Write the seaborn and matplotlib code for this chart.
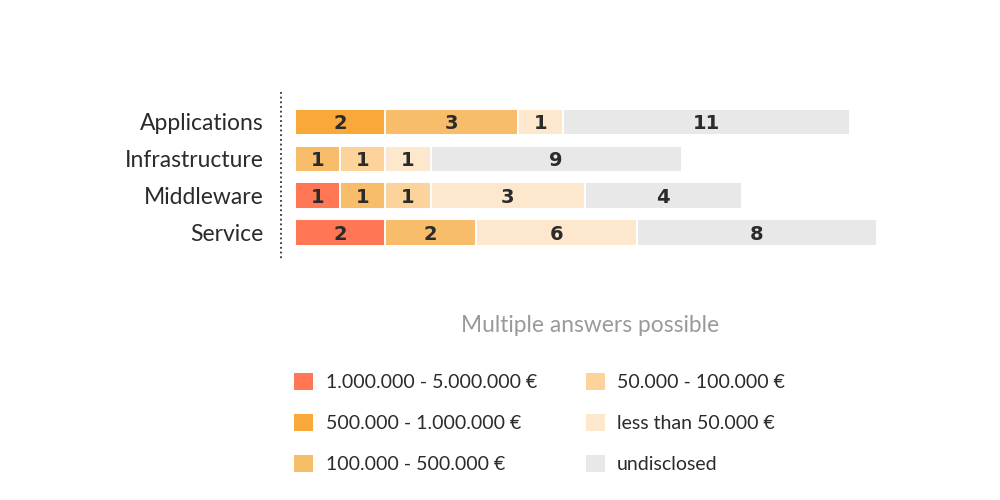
import numpy as np
import pandas as pd
import matplotlib
matplotlib.use("Agg")
import matplotlib.pyplot as plt
import seaborn as sns
from matplotlib.patches import Patch
from matplotlib.lines import Line2D

# ---------------- data ----------------
areas = ["Applications", "Infrastructure", "Middleware", "Service"]
brackets = ["1.000.000 - 5.000.000 €", "500.000 - 1.000.000 €", "100.000 - 500.000 €",
            "50.000 - 100.000 €", "less than 50.000 €", "undisclosed"]
colors = ["#FF7755", "#F9A83A", "#F8BD6B", "#FCD49B", "#FDE8CE", "#E8E8E8"]

# per area: bracket index, answer count, drawn segment length
applications_brackets = [1, 2, 4, 5]
applications_counts = [2, 3, 1, 11]
applications_lengths = [2.0, 2.94, 0.98, 6.33]

infrastructure_brackets = [2, 3, 4, 5]
infrastructure_counts = [1, 1, 1, 9]
infrastructure_lengths = [1.0, 1.0, 1.0, 5.54]

middleware_brackets = [0, 2, 3, 4, 5]
middleware_counts = [1, 1, 1, 3, 4]
middleware_lengths = [1.0, 1.0, 1.0, 3.4, 3.47]

service_brackets = [0, 2, 4, 5]
service_counts = [2, 2, 6, 8]
service_lengths = [2.0, 2.0, 3.55, 5.3]

note = "Multiple answers possible"

# ---------------- build table ----------------
rows = []
for area, bi, cn, ln in [
    ("Applications", applications_brackets, applications_counts, applications_lengths),
    ("Infrastructure", infrastructure_brackets, infrastructure_counts, infrastructure_lengths),
    ("Middleware", middleware_brackets, middleware_counts, middleware_lengths),
    ("Service", service_brackets, service_counts, service_lengths),
]:
    ends = np.cumsum(ln)
    starts = ends - np.array(ln)
    for k, (b, c, s, e) in enumerate(zip(bi, cn, starts, ends)):
        rows.append(dict(area=area, bracket=brackets[b], count=c, start=s, end=e, layer=k))
df = pd.DataFrame(rows)

# ---------------- plot ----------------
sns.set_theme(style="white")
plt.rcParams["font.family"] = ["Lato", "DejaVu Sans"]

fig = plt.figure(figsize=(10, 5), dpi=100)
ax = fig.add_axes([0.2947, 0.4978, 0.5889, 0.2952])

for layer in sorted(df["layer"].unique(), reverse=True):
    sub = df[df["layer"] == layer]
    sns.barplot(data=sub, x="end", y="area", hue="bracket", order=areas,
                hue_order=brackets, palette=colors, dodge=False, legend=False,
                errorbar=None, saturation=1, width=0.72, edgecolor="white",
                linewidth=1.4, ax=ax)

for _, r in df.iterrows():
    ax.text((r["start"] + r["end"]) / 2, areas.index(r["area"]), str(r["count"]),
            ha="center", va="center_baseline", fontsize=14, fontweight="bold",
            family=["DejaVu Sans"], color="#2b2b2b")

ax.set_xlim(0, 13)
ax.set_ylim(3.5, -0.5)
ax.set_xlabel("")
ax.set_ylabel("")
ax.set_xticks([])
ax.tick_params(axis="y", length=0, pad=22.5, labelsize=16.5, labelcolor="#2b2b2b")
for sp in ax.spines.values():
    sp.set_visible(False)

# dotted separator
fig.add_artist(Line2D([0.281, 0.281], [1 - 92 / 500, 1 - 260 / 500],
                      transform=fig.transFigure, color="#333333", lw=1.3,
                      linestyle=(0, (1, 1.6))))

fig.text(0.5905, 1 - 325 / 500, note, ha="center", va="center",
         color="#9a9a9a", fontsize=16.4)

handles = [Patch(facecolor=c, edgecolor="none") for c in colors]
fig.legend(handles, brackets, ncol=2, loc="upper left",
           bbox_to_anchor=(0.294, 1 - 373 / 500), frameon=False, fontsize=14,
           handlelength=0.98, handleheight=0.98, handletextpad=0.65,
           columnspacing=2.5, labelspacing=1.17, borderaxespad=0, borderpad=0,
           labelcolor="#2b2b2b")

fig.savefig("out.png", dpi=100, facecolor="white")
